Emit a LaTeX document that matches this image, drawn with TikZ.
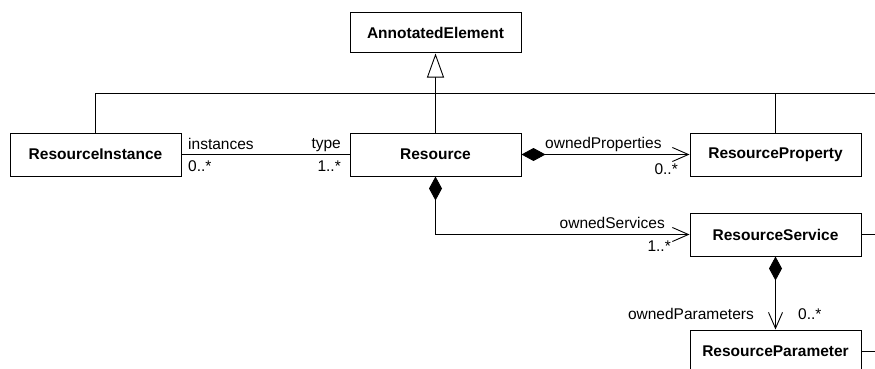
\documentclass[tikz,border=0pt]{standalone}
\usepackage{fontspec}
\setmainfont{Liberation Sans}
\usetikzlibrary{arrows.meta}
\begin{document}
\begin{tikzpicture}[x=1pt,y=-1pt,
  cls/.style={draw,line width=1pt,fill=white,minimum width=171pt,minimum height=43pt,inner sep=0pt,font=\fontsize{15.5}{18}\selectfont\bfseries},
  lbl/.style={inner sep=0pt,font=\fontsize{15.5}{18}\selectfont},
  conn/.style={line width=0.9pt},
  gen/.style={conn,-{Triangle[open,length=24pt,width=17pt,fill=white]}},
  comp/.style={conn,{Diamond[length=24pt,width=13pt]}-{Straight Barb[length=16pt,width=14pt]}},
]
\useasboundingbox (0,0) rectangle (875,369);
\node[cls,minimum height=40pt] (ae) at (435.5,33) {AnnotatedElement};
\node[cls] (ri) at (95.5,154.5) {ResourceInstance};
\node[cls] (res) at (435.5,154.5) {Resource};
\node[cls] (rp) at (775.5,154.5) {ResourceProperty};
\node[cls] (rs) at (775.5,234.5) {ResourceService};
\node[cls] (rpar) at (775.5,351.5) {ResourceParameter};
\coordinate (bus) at (435.5,93);
\coordinate (busR) at (875,93);
\coordinate (rsR) at (875,234.5);
\coordinate (rparR) at (875,351.5);
% generalization
\draw[conn] (ri.north) |- (busR);
\draw[conn] (rp.north) -- (rp.north |- bus);
\draw[gen] (res.north) -- (ae.south);
\draw[conn] (rs.east) -- (rsR);
\draw[conn] (rpar.east) -- (rparR);
% associations
\draw[conn] (ri.east) -- (res.west);
\draw[comp] (res.east) -- (rp.west);
\draw[comp] (res.south) |- (rs.west);
\draw[comp] (rs.south) -- (rpar.north);
% labels
\node[lbl,anchor=base west] (l1) at (188,149) {instances};
\node[lbl,anchor=base west] (l2) at (188,171) {0..*};
\node[lbl,anchor=base east] (l3) at (341,148) {type};
\node[lbl,anchor=base east] (l4) at (341,171) {1..*};
\node[lbl,anchor=base west] (l5) at (545,148) {ownedProperties};
\node[lbl,anchor=base east] (l6) at (678,174) {0..*};
\node[lbl,anchor=base east] (l7) at (665,228) {ownedServices};
\node[lbl,anchor=base east] (l8) at (671,251) {1..*};
\node[lbl,anchor=base east] (l9) at (754,319) {ownedParameters};
\node[lbl,anchor=base west] (l10) at (798,319) {0..*};
\end{tikzpicture}
\end{document}
